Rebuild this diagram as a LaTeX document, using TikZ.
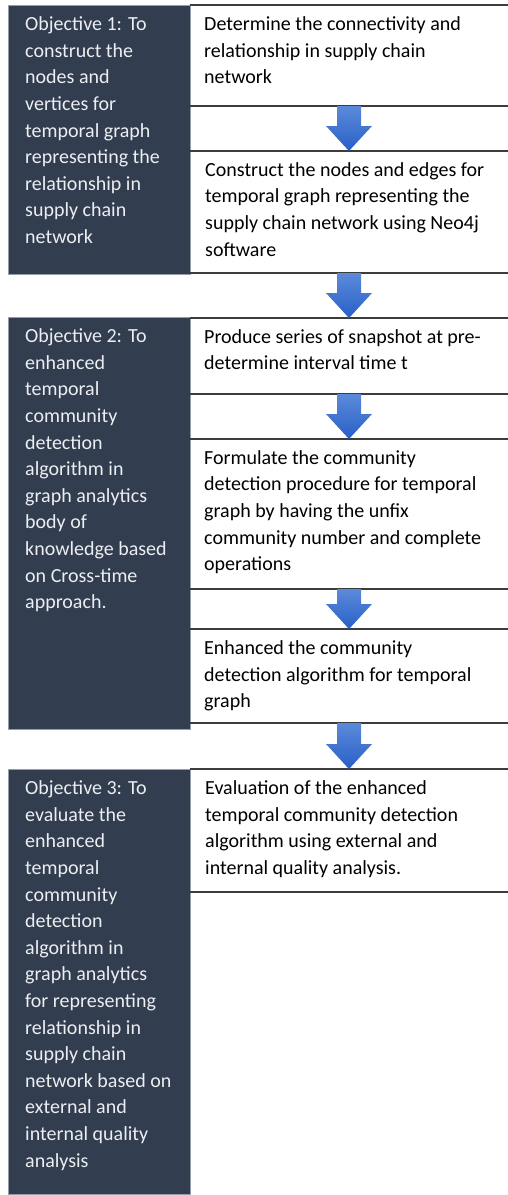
\documentclass[tikz,border=0pt]{standalone}
\usepackage{fontspec}
\setmainfont{Carlito}
\usetikzlibrary{calc}
\definecolor{objfill}{RGB}{50,61,80}
\definecolor{objborder}{RGB}{150,158,170}
\definecolor{objtextc}{RGB}{236,238,241}
\definecolor{arrtop}{RGB}{92,138,218}
\definecolor{arrbot}{RGB}{40,96,200}
\definecolor{lineC}{RGB}{60,60,60}
\begin{document}
\begin{tikzpicture}[x=1pt,y=-1pt,
  objbox/.style={fill=objfill,draw=objborder,line width=0.8pt,minimum width=182pt,inner sep=0pt,anchor=north west,outer sep=0pt},
  stepbox/.style={draw=none,minimum width=318pt,inner sep=0pt,anchor=north west,outer sep=0pt},
  txt/.style={anchor=north west,inner sep=0pt,align=left,font=\fontsize{20}{26.6}\selectfont},
  objtxt/.style={txt,text=objtextc},
  steptxt/.style={txt,text=black},
  sepline/.style={draw=lineC,line width=1.3pt},
  arrowfill/.style={top color=arrtop,bottom color=arrbot,draw=none}
]
\newcommand\fr{\rule{0pt}{18.6pt}}
\newcommand\blockarrow[2]{%
  \shade[arrowfill] let \p1=(#1.south), \p2=(#2.north) in
    (\x1-12pt,\y1) -- (\x1+12pt,\y1) -- (\x1+12pt,\y2+25pt) -- (\x1+23pt,\y2+25pt)
    -- (\x1,\y2) -- (\x1-23pt,\y2+25pt) -- (\x1-12pt,\y2+25pt) -- cycle;}
\useasboundingbox (0,0) rectangle (508,1195);
\fill[white] (0,0) rectangle (508,1195);

% objective boxes
\node[objbox,minimum height=269pt] (obj1) at (8,5) {};
\node[objbox,minimum height=412pt] (obj2) at (8,317) {};
\node[objbox,minimum height=425pt] (obj3) at (8,769) {};

% step boxes
\node[stepbox,minimum height=101pt] (s1) at (190,5) {};
\node[stepbox,minimum height=122pt] (s2) at (190,151) {};
\node[stepbox,minimum height=76pt] (s3) at (190,318) {};
\node[stepbox,minimum height=150pt] (s4) at (190,439) {};
\node[stepbox,minimum height=94pt] (s5) at (190,629) {};
\node[stepbox,minimum height=123pt] (s6) at (190,769) {};

\foreach \s in {s1,s2,s3,s4,s5,s6}{
  \draw[sepline] (\s.north west) -- (\s.north east);
  \draw[sepline] (\s.south west) -- (\s.south east);
}

% texts
\node[objtxt] (t1) at ($(obj1.north west)+(17,6.9)$) {\fr Objective 1: To\\construct the\\nodes and\\vertices for\\temporal graph\\representing the\\relationship in\\supply chain\\network};
\node[objtxt] (t2) at ($(obj2.north west)+(17,6.9)$) {\fr Objective 2: To\\enhanced\\temporal\\community\\detection\\algorithm in\\graph analytics\\body of\\knowledge based\\on Cross-time\\approach.};
\node[objtxt] (t3) at ($(obj3.north west)+(17,6.9)$) {\fr Objective 3: To\\evaluate the\\enhanced\\temporal\\community\\detection\\algorithm in\\graph analytics\\for representing\\relationship in\\supply chain\\network based on\\external and\\internal quality\\analysis};

\node[steptxt] (u1) at ($(s1.north west)+(14,6.9)$) {\fr Determine the connectivity and\\relationship in supply chain\\network};
\node[steptxt] (u2) at ($(s2.north west)+(15,6.4)$) {\fr Construct the nodes and edges for\\temporal graph representing the\\supply chain network using Neo4j\\software};
\node[steptxt] (u3) at ($(s3.north west)+(14,6.4)$) {\fr Produce series of snapshot at pre-\\determine interval time t};
\node[steptxt] (u4) at ($(s4.north west)+(14,6.4)$) {\fr Formulate the community\\detection procedure for temporal\\graph by having the unfix\\community number and complete\\operations};
\node[steptxt] (u5) at ($(s5.north west)+(14,6.9)$) {\fr Enhanced the community\\detection algorithm for temporal\\graph};
\node[steptxt] (u6) at ($(s6.north west)+(15,6.9)$) {\fr Evaluation of the enhanced\\temporal community detection\\algorithm using external and\\internal quality analysis.};

% arrows
\blockarrow{s1}{s2}
\blockarrow{s2}{s3}
\blockarrow{s3}{s4}
\blockarrow{s4}{s5}
\blockarrow{s5}{s6}
\end{tikzpicture}
\end{document}
